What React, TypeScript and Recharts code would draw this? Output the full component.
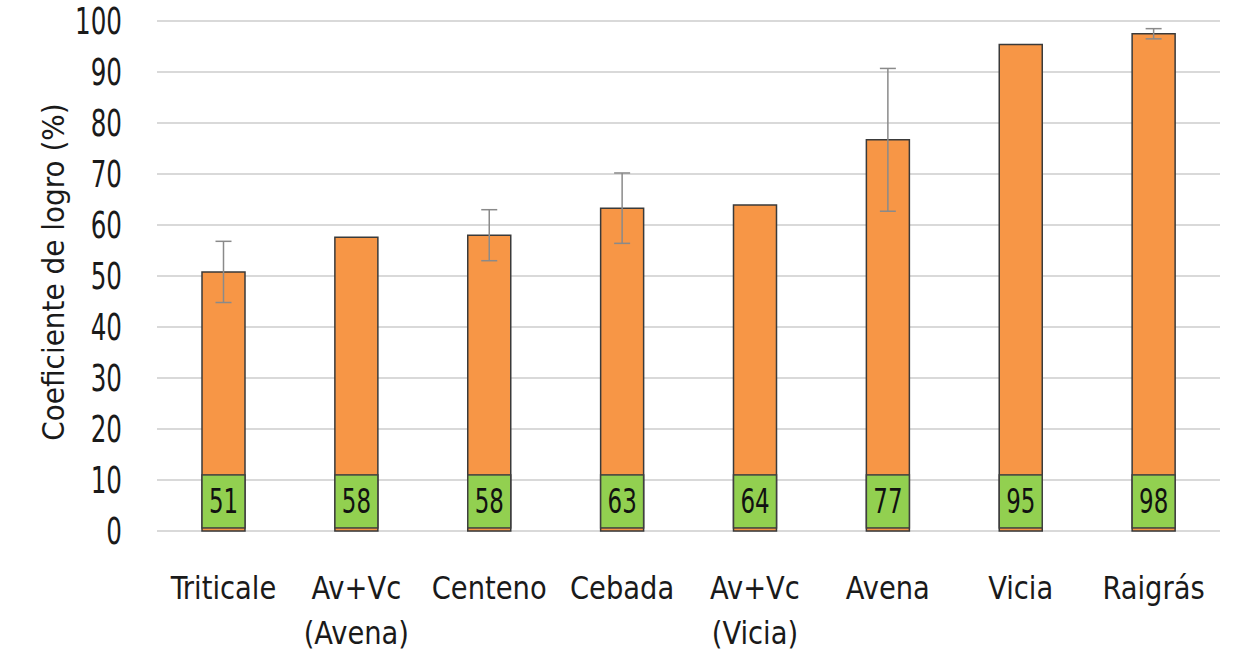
import React from "react";
import {
  BarChart,
  Bar,
  XAxis,
  YAxis,
  CartesianGrid,
  ErrorBar,
  LabelList,
  Label,
} from "recharts";

const FONT = "'Liberation Sans Narrow', 'DejaVu Sans Condensed', 'Arial Narrow', sans-serif";

// categories (second line of label after "\n")
const categories = [
  "Triticale",
  "Av+Vc\n(Avena)",
  "Centeno",
  "Cebada",
  "Av+Vc\n(Vicia)",
  "Avena",
  "Vicia",
  "Raigrás",
];
// coeficiente de logro (%)
const values = [50.8, 57.6, 58.0, 63.3, 63.9, 76.7, 95.4, 97.5];
// error (+/-)
const errors = [6.0, 0, 5.0, 6.9, 0, 14.0, 0, 1.0];
const yTicks = [0, 10, 20, 30, 40, 50, 60, 70, 80, 90, 100];

const data = categories.map((name, i) => ({
  name,
  value: values[i],
  err: errors[i],
}));

// two-line category tick
const CategoryTick = (props: any) => {
  const { x, y, payload } = props;
  const lines = String(payload.value).split("\n");
  return (
    <g transform={`translate(${x}, ${y}) scale(0.95, 1)`}>
      <text
        x={0}
        y={0}
        textAnchor="middle"
        fill="#1a1a1a"
        fontSize={32}
        fontFamily={FONT}
      >
        {lines.map((l, i) => (
          <tspan key={i} x={0} dy={i === 0 ? 60 : 45}>
            {l}
          </tspan>
        ))}
      </text>
    </g>
  );
};

// narrow, tall digits for the value axis
const ValueTick = (props: any) => {
  const { x, y, payload } = props;
  return (
    <g transform={`translate(${x}, ${y}) scale(0.72, 1)`}>
      <text
        x={0}
        y={0}
        textAnchor="end"
        dominantBaseline="central"
        fill="#1a1a1a"
        fontSize={38}
        fontFamily={FONT}
      >
        {payload.value}
      </text>
    </g>
  );
};

// green value box sitting at the bottom of each bar
const GreenBox = (props: any) => {
  const { x, y, width, height, value } = props;
  if (!value) return null;
  const ppu = height / value;
  const bottom = y + height;
  const top = bottom - 11 * ppu;
  const low = bottom - 0.6 * ppu;
  const cx = x + width / 2;
  const cy = (top + low) / 2;
  return (
    <g>
      <rect
        x={x}
        y={top}
        width={width}
        height={low - top}
        fill="#92D050"
        stroke="#3f3f3f"
        strokeWidth={1.5}
      />
      <g transform={`translate(${cx}, ${cy}) scale(0.75, 1)`}>
        <text
          x={0}
          y={0}
          textAnchor="middle"
          dominantBaseline="central"
          fontSize={34}
          fontFamily={FONT}
          fill="#111"
        >
          {Math.round(value)}
        </text>
      </g>
    </g>
  );
};

export default function App() {
  return (
    <div style={{ position: "absolute", left: 0, top: 0, background: "#fff" }}>
      <BarChart
        width={1238}
        height={653}
        data={data}
        margin={{ top: 21, right: 18, bottom: 0, left: 0 }}
      >
        {/* Grid */}
        <CartesianGrid vertical={false} stroke="#d9d9d9" strokeWidth={2} />

        {/* X Axis */}
        <XAxis
          dataKey="name"
          axisLine={false}
          tickLine={false}
          height={122}
          interval={0}
          tick={<CategoryTick />}
        />

        {/* Y Axis */}
        <YAxis
          width={157}
          domain={[0, 100]}
          ticks={yTicks}
          interval={0}
          axisLine={false}
          tickLine={false}
          tickSize={6}
          tickMargin={29}
          tick={<ValueTick />}
        >
          <Label
            content={({ viewBox }: any) => {
              const cx = viewBox.x + 53;
              const cy = viewBox.y + viewBox.height / 2 - 4;
              return (
                <text
                  x={cx}
                  y={cy}
                  transform={`rotate(-90, ${cx}, ${cy})`}
                  textAnchor="middle"
                  dominantBaseline="central"
                  fontSize={31}
                  fontFamily={FONT}
                  fill="#1a1a1a"
                >
                  Coeficiente de logro (%)
                </text>
              );
            }}
          />
        </YAxis>

        {/* Bars */}
        <Bar
          dataKey="value"
          barSize={43}
          fill="#F79646"
          stroke="#3a3a3a"
          strokeWidth={1.5}
          isAnimationActive={false}
        >
          <ErrorBar
            dataKey="err"
            width={8}
            stroke="#8a8a8a"
            strokeWidth={1.5}
          />
          <LabelList dataKey="value" content={<GreenBox />} />
        </Bar>
      </BarChart>
    </div>
  );
}
